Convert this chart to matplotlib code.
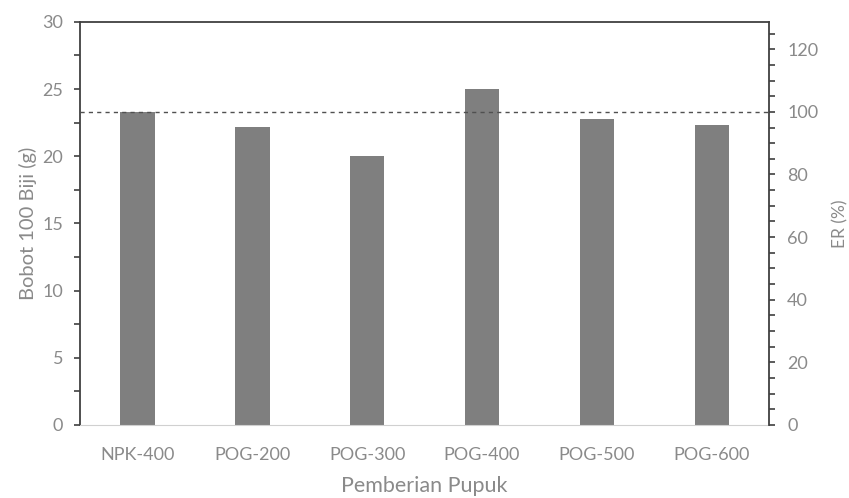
import matplotlib.pyplot as plt
from matplotlib.ticker import MultipleLocator

plt.rcParams['font.family'] = ['Lato', 'DejaVu Sans']

# data
treatments = ["NPK-400", "POG-200", "POG-300", "POG-400", "POG-500", "POG-600"]
bobot = [23.3, 22.2, 20.0, 25.0, 22.75, 22.3]
er_ref = 100  # garis putus-putus ER 100%

text_col = "#8a8a8a"
bar_col = "#7f7f7f"

fig, ax = plt.subplots(figsize=(8.49, 4.98), dpi=100)
fig.subplots_adjust(left=0.0942, right=0.906, top=0.956, bottom=0.147)

x = range(len(treatments))
ax.bar(x, bobot, width=0.3, color=bar_col, zorder=2)
ax.set_xlim(-0.5, len(treatments) - 0.5)
ax.set_ylim(0, 30)
ax.yaxis.set_major_locator(MultipleLocator(5))
ax.yaxis.set_minor_locator(MultipleLocator(2.5))
ax.set_xticks(list(x))
ax.set_xticklabels(treatments)

ax.set_xlabel("Pemberian Pupuk", color=text_col, fontsize=15.5, labelpad=9)
ax.set_ylabel("Bobot 100 Biji (g)", color=text_col, fontsize=14.5, labelpad=4)

ax.tick_params(axis="y", which="both", direction="out", length=4, width=1.2,
               color="#404040", labelcolor=text_col, labelsize=13, pad=8)
ax.tick_params(axis="x", length=0, labelcolor=text_col, labelsize=13, pad=16)

for s in ["left", "top"]:
    ax.spines[s].set_color("#404040")
    ax.spines[s].set_linewidth(1.3)
ax.spines["bottom"].set_color("#d0d0d0")
ax.spines["right"].set_visible(False)

# sumbu kanan ER (%) - 100% sejajar dengan NPK-400
ax2 = ax.twinx()
ax2.set_ylim(0, 30 / bobot[0] * 100)
ax2.yaxis.set_major_locator(MultipleLocator(20))
ax2.yaxis.set_minor_locator(MultipleLocator(5))
ax2.tick_params(axis="y", which="both", direction="out", length=4, width=1.2,
                color="#404040", labelcolor=text_col, labelsize=13, pad=9)
ax2.set_ylabel("ER (%)", color=text_col, fontsize=12.5, labelpad=10)
for s in ["left", "top", "bottom"]:
    ax2.spines[s].set_visible(False)
ax2.spines["right"].set_color("#404040")
ax2.spines["right"].set_linewidth(1.3)

ax2.axhline(er_ref, color="#505050", linestyle=(0, (3, 3)), linewidth=1.0, zorder=3)

fig.savefig("out.png", dpi=100)
